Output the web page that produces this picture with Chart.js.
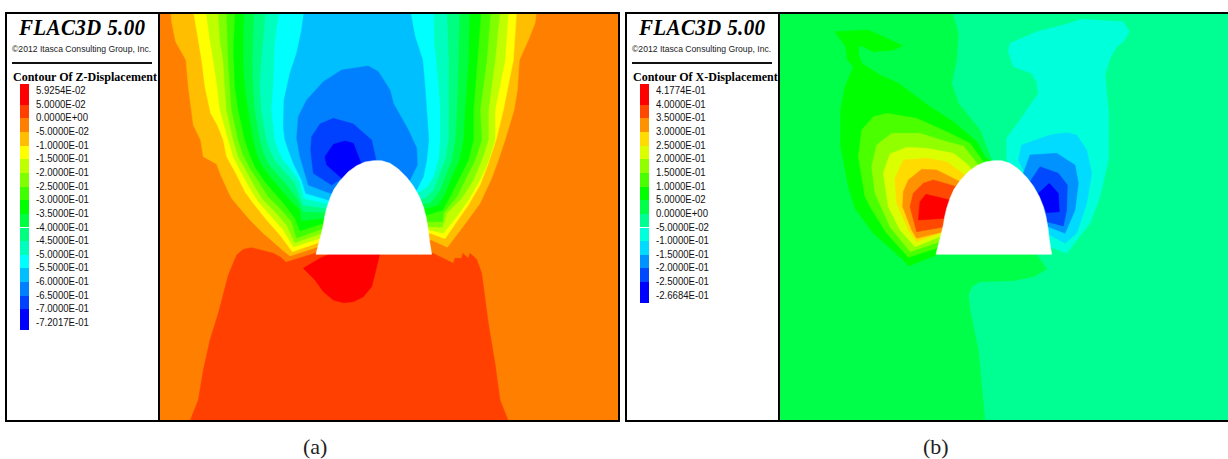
<!DOCTYPE html>
<html><head><meta charset="utf-8">
<style>
html,body{margin:0;padding:0;background:#fff;width:1228px;height:459px;overflow:hidden}
.abs{position:absolute;white-space:nowrap}
.box{position:absolute;border:2px solid #000;box-sizing:border-box;z-index:5}
canvas{position:absolute}
</style>
<script src="https://cdn.jsdelivr.net/npm/chart.js@4"></script>
</head><body>
<div id="root"></div>
<script>
// Legend values
const zLabels=["5.9254E-02","5.0000E-02","0.0000E+00","-5.0000E-02","-1.0000E-01","-1.5000E-01","-2.0000E-01","-2.5000E-01","-3.0000E-01","-3.5000E-01","-4.0000E-01","-4.5000E-01","-5.0000E-01","-5.5000E-01","-6.0000E-01","-6.5000E-01","-7.0000E-01","-7.2017E-01"];
const xLabels=["4.1774E-01","4.0000E-01","3.5000E-01","3.0000E-01","2.5000E-01","2.0000E-01","1.5000E-01","1.0000E-01","5.0000E-02","0.0000E+00","-5.0000E-02","-1.0000E-01","-1.5000E-01","-2.0000E-01","-2.5000E-01","-2.6684E-01"];
const zColors=["#FF0000","#FF4000","#FF8000","#FFBF00","#FFFF00","#BFFF00","#80FF00","#40FF00","#00FF00","#00FF40","#00FF80","#00FFBF","#00FFFF","#00BFFF","#0080FF","#0040FF","#0000FF"];
const xColors=["#FF0000","#FF4900","#FF9200","#FFDB00","#DBFF00","#92FF00","#49FF00","#00FF00","#00FF49","#00FF92","#00FFDB","#00DBFF","#0092FF","#0049FF","#0000FF"];

// Opening outline, shared by both panels
const tunnel=[[468,733],[475,705],[483,675],[490,645],[494,620],[500,595],[510,565],[522,538],[540,512],[565,485],[590,467],[615,456],[640,452],[665,452],[690,460],[715,477],[740,502],[760,528],[778,560],[790,590],[798,620],[804,655],[808,690],[815,733]];

// Panel (a) contour regions of Z-displacement
const zLump=[[90,1233],[115,1170],[130,1080],[150,990],[175,910],[205,795],[230,735],[250,718],[275,713],[340,730],[362,742],[378,757],[470,728],[815,728],[880,760],[885,745],[905,745],[908,730],[925,745],[930,730],[950,748],[965,790],[985,940],[1005,1060],[1020,1170],[1045,1233]];
const zRed=[[430,775],[480,745],[520,728],[660,728],[650,770],[635,830],[610,860],[580,875],[550,878],[520,870],[490,845],[465,810]];
const zAmber=[[32,0],[35,35],[47,95],[78,150],[85,230],[100,345],[122,390],[130,440],[170,462],[180,490],[205,545],[215,565],[240,595],[270,630],[310,670],[370,722],[390,738],[470,712],[815,690],[862,712],[920,635],[960,580],[995,505],[1015,450],[1035,390],[1062,300],[1072,240],[1078,150],[1105,90],[1125,40],[1130,0]];
const zYellow=[[100,0],[115,90],[125,150],[135,230],[152,310],[172,345],[190,390],[200,440],[225,485],[255,545],[280,580],[320,630],[360,675],[397,725],[475,698],[812,670],[855,686],[890,635],[925,585],[960,525],[985,460],[1008,390],[1030,300],[1060,150],[1070,0]];
const zLime=[[138,0],[150,90],[160,150],[172,230],[180,300],[205,390],[220,440],[240,480],[270,535],[295,575],[330,615],[370,660],[400,711],[480,685],[808,660],[850,670],[890,620],[925,570],[960,510],[985,455],[1005,390],[1005,300],[1035,150],[1045,0]];
const zLime2=[[175,0],[180,90],[190,150],[195,230],[200,300],[220,390],[235,440],[255,475],[285,530],[310,570],[345,605],[380,645],[405,698],[485,670],[805,650],[847,652],[860,610],[905,565],[940,510],[965,450],[985,390],[985,300],[1005,150],[1020,0]];
const zGreenA=[[200,0],[203,90],[205,150],[210,230],[215,300],[235,390],[250,435],[270,475],[300,520],[325,560],[360,595],[395,635],[410,684],[490,655],[805,635],[848,635],[850,610],[890,560],[920,500],[945,450],[965,390],[960,300],[980,150],[992,0]];
const zGreen=[[226,0],[222,90],[222,150],[225,230],[235,300],[255,390],[270,435],[285,470],[315,515],[345,550],[375,585],[405,625],[420,662],[490,640],[800,615],[848,600],[875,550],[900,500],[925,450],[940,390],[940,300],[952,150],[963,0]];
const zGreenB=[[252,0],[250,150],[255,230],[265,300],[280,390],[290,430],[305,465],[335,505],[365,540],[395,575],[420,600],[425,632],[490,625],[800,595],[835,585],[855,550],[875,500],[898,450],[910,390],[915,300],[925,150],[928,0]];
const zMint=[[283,0],[278,150],[280,230],[285,300],[300,390],[310,425],[325,460],[355,495],[385,530],[415,570],[430,605],[495,607],[795,580],[810,580],[840,540],[855,500],[875,450],[885,390],[890,300],[895,150],[898,0]];
const zAqua=[[318,0],[305,150],[300,230],[305,300],[320,390],[330,420],[345,450],[375,485],[405,520],[430,585],[500,595],[795,565],[820,540],[835,500],[855,450],[865,390],[865,300],[865,150],[860,0]];
const zCyan=[[358,0],[345,100],[340,230],[335,300],[345,390],[355,420],[370,450],[395,480],[420,515],[432,565],[505,582],[780,545],[800,530],[820,500],[835,445],[840,390],[840,300],[835,230],[828,150],[822,100],[820,0]];
const zSky=[[433,0],[425,60],[410,130],[390,190],[372,270],[370,350],[375,390],[385,420],[400,460],[425,510],[437,550],[505,570],[770,540],[790,500],[800,450],[806,390],[800,300],[795,230],[788,150],[765,80],[750,0]];
const zAzure=[[625,168],[545,180],[490,215],[440,270],[415,320],[410,385],[420,440],[445,525],[510,550],[750,510],[772,465],[770,415],[745,360],[700,280],[690,240],[655,185]];
const zBlue2=[[520,325],[480,342],[455,380],[452,420],[460,490],[515,525],[600,470],[648,450],[635,390],[580,342]];
const zBlue=[[555,393],[520,403],[495,440],[500,465],[545,505],[605,465],[580,400]];

// Panel (b) contour regions of X-displacement
const xLeftField=[[515,0],[535,70],[530,150],[515,220],[535,280],[600,360],[635,450],[700,600],[770,733],[800,778],[760,800],[700,812],[600,815],[575,830],[565,855],[570,900],[595,1020],[615,1233],[-3,1233],[-3,0]];
const xGreen=[[165,65],[265,60],[320,85],[368,107],[340,120],[280,125],[238,105],[235,130],[245,160],[300,195],[355,220],[450,290],[520,335],[590,395],[615,440],[635,455],[500,640],[470,735],[385,768],[370,750],[280,670],[225,595],[205,530],[190,450],[180,400],[182,300],[195,230],[220,170],[202,150],[197,110]];
const xLime1=[[320,310],[280,320],[245,360],[235,440],[255,560],[270,590],[320,670],[385,742],[470,715],[600,470],[610,455],[570,400],[500,365],[410,325]];
const xLime2=[[335,370],[290,405],[275,470],[285,550],[330,650],[390,725],[480,695],[595,465],[550,408],[500,395],[420,370]];
const xChart=[[380,412],[330,432],[310,490],[325,590],[360,660],[405,710],[480,680],[575,480],[565,465],[520,430],[440,415]];
const xGold=[[370,450],[345,505],[350,580],[385,660],[410,695],[480,670],[555,495],[500,455],[440,445]];
const xOrange=[[425,478],[385,510],[370,545],[368,590],[395,660],[410,685],[490,665],[540,515],[470,480]];
const xDeep=[[460,510],[430,520],[400,550],[390,590],[410,665],[495,650],[530,530]];
const xRed=[[438,553],[420,575],[415,630],[495,625],[510,570]];
const xAqua=[[905,28],[1030,35],[1048,65],[1030,95],[1010,110],[990,145],[975,195],[985,300],[985,400],[985,450],[960,560],[930,640],[875,710],[860,730],[810,710],[680,450],[680,385],[720,330],[775,250],[770,215],[755,190],[700,170],[685,125],[690,100],[770,65],[850,45]];
const xCyan=[[860,368],[810,375],[725,405],[715,450],[735,490],[810,675],[855,700],[890,670],[920,580],[935,490],[920,420],[890,375]];
const xSky=[[830,430],[750,435],[730,490],[805,650],[855,670],[885,600],[895,520],[885,465]];
const xAzure=[[780,470],[750,515],[800,635],[850,648],[860,600],[862,525],[835,490]];
const xBlue=[[808,520],[775,550],[800,608],[838,605],[835,550]];

function ds(poly,color,i,total){
  const pts=poly.concat([poly[0]]).map(p=>({x:p[0],y:p[1]}));
  return {data:pts,showLine:true,fill:'shape',backgroundColor:color,borderColor:color,borderWidth:0.5,pointRadius:0,tension:0,order:total-i};
}
function makeChart(left,top,w,h,xMin,xMax,bg,layers){
  const c=document.createElement('canvas');
  c.width=w;c.height=h;c.style.cssText=`left:${left}px;top:${top}px;width:${w}px;height:${h}px;background:${bg}`;
  document.body.appendChild(c);
  new Chart(c,{type:'scatter',
    data:{datasets:layers.map((l,i)=>ds(l[0],l[1],i,layers.length))},
    options:{responsive:false,animation:false,devicePixelRatio:1,layout:{padding:0},
      plugins:{legend:{display:false},tooltip:{enabled:false},title:{display:false},
        filler:{propagate:false}},
      scales:{x:{type:'linear',display:false,min:xMin,max:xMax},
              y:{type:'linear',display:false,min:9,max:1233,reverse:true}}}});
}
function text(t,x,y,css){const d=document.createElement('div');d.className='abs';d.textContent=t;
  d.style.cssText+=`left:${x}px;top:${y}px;transform-origin:left center;`+css;document.body.appendChild(d);return d;}
function panel(ox,bw,name,labels,colors,capX,cap){
  const b=document.createElement('div');b.className='box';
  b.style.cssText=`left:${ox+5}px;top:12px;width:${bw}px;height:410px`;document.body.appendChild(b);
  const dv=document.createElement('div');dv.className='abs';
  dv.style.cssText=`left:${ox+158}px;top:12px;width:2px;height:410px;background:#000;z-index:5`;document.body.appendChild(dv);
  text('FLAC3D 5.00',ox+19,15,"font:italic bold 22.5px 'Liberation Serif';line-height:26px;letter-spacing:.35px;transform:scaleX(.935)");
  text('©2012 Itasca Consulting Group, Inc.',ox+12,43.5,"font:8.65px 'Liberation Sans';line-height:10px;color:#222");
  const r=document.createElement('div');r.className='abs';r.style.cssText=`left:${ox+12}px;top:61.5px;width:140px;height:2px;background:#111`;document.body.appendChild(r);
  text('Contour Of '+name,ox+13,70,"font:bold 12.4px 'Liberation Serif';line-height:14px;transform:scaleX(.97)");
  const step=13.65,c0=91,n=labels.length;
  labels.forEach((t,i)=>text(t,ox+35.5,c0+i*step-6,"font:10px 'Liberation Sans';line-height:12px;color:#111;transform:scaleX(.96)"));
  colors.forEach((col,k)=>{
    const y0=k===0?84:c0+k*step, y1=k===colors.length-1?c0+(n-1)*step+7:c0+(k+1)*step;
    const s=document.createElement('div');s.className='abs';
    s.style.cssText=`left:${ox+20}px;top:${y0}px;width:8.5px;height:${y1-y0}px;background:${col}`;document.body.appendChild(s);
  });
  text(cap,capX,435,"font:22px 'Liberation Serif';line-height:24px;color:#222");
}
panel(0,615,'Z-Displacement',zLabels,zColors,303,'(a)');
panel(620,620,'X-Displacement',xLabels,xColors,923,'(b)');
makeChart(160,13,459,408,0,1377,zColors[2],[
 [zLump,zColors[1]],[zRed,zColors[0]],[zAmber,zColors[3]],[zYellow,zColors[4]],[zLime,zColors[5]],[zLime2,zColors[6]],[zGreenA,zColors[7]],[zGreen,zColors[8]],[zGreenB,zColors[9]],[zMint,zColors[10]],[zAqua,zColors[11]],[zCyan,zColors[12]],[zSky,zColors[13]],[zAzure,zColors[14]],[zBlue2,zColors[15]],[zBlue,zColors[16]],[tunnel,'#FFFFFF']]);
makeChart(780,13,448,408,0,1344,xColors[9],[
 [xLeftField,xColors[8]],[xGreen,xColors[7]],[xLime1,xColors[6]],[xLime2,xColors[5]],[xChart,xColors[4]],[xGold,xColors[3]],[xOrange,xColors[2]],[xDeep,xColors[1]],[xRed,xColors[0]],[xAqua,xColors[10]],[xCyan,xColors[11]],[xSky,xColors[12]],[xAzure,xColors[13]],[xBlue,xColors[14]],[tunnel,'#FFFFFF']]);
</script>
</body></html>
